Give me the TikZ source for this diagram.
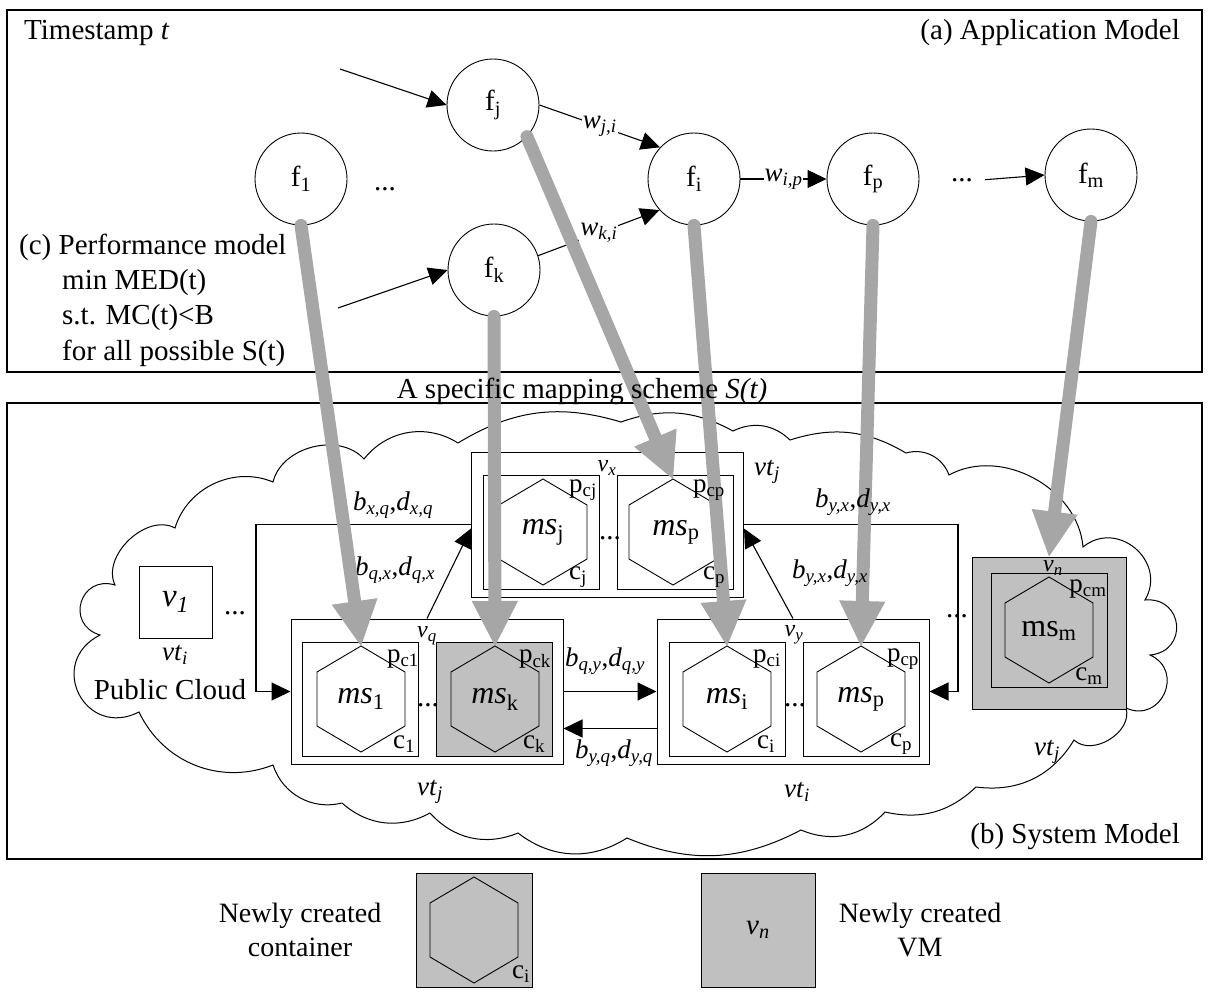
\documentclass[tikz,border=0pt]{standalone}
\usepackage{fontspec}
\setmainfont{Liberation Serif}
\usetikzlibrary{arrows.meta}
\definecolor{gfill}{HTML}{C0C0C0}
\definecolor{garc}{HTML}{A6A6A6}
\newcommand\ib[2]{\textit{#1}\textsubscript{\textit{#2}}}
\begin{document}
\begin{tikzpicture}[x=1pt,y=-1pt,
 panel/.style={draw, line width=1.2pt, inner sep=0pt},
 txt/.style={font=\fontsize{29}{34}\selectfont, inner sep=0pt},
 lab/.style={font=\fontsize{27}{31}\selectfont, inner sep=0pt},
 vlab/.style={font=\fontsize{24}{28}\selectfont, inner sep=0pt},
 mslab/.style={font=\fontsize{32}{36}\selectfont, inner sep=0pt},
 fcirc/.style={circle, draw, line width=0.9pt, fill=white, minimum size=92pt, inner sep=0pt, font=\fontsize{29}{33}\selectfont},
 vm/.style={draw, line width=1pt, fill=white, inner sep=0pt, minimum width=272pt, minimum height=145pt},
 cont/.style={draw, line width=1pt, fill=white, inner sep=0pt, minimum width=116pt, minimum height=114pt},
 arr/.style={line width=1.1pt, -{Triangle[length=19pt,width=18pt]}},
 gar/.style={color=garc, line width=13pt, line cap=round, -{Triangle[length=45pt,width=46pt,line width=1pt]}},
 wlab/.style={font=\fontsize{27}{31}\selectfont, fill=white, inner sep=1pt},
 cloudline/.style={line width=1pt},
 hexa/.pic={\draw[line width=0.9pt] (0,-53) -- (44,-27) -- (44,27) -- (0,53) -- (-44,27) -- (-44,-27) -- cycle; \coordinate (-top) at (0,-53);},
]
\useasboundingbox (0,0) rectangle (1208,1002);

% panels
\node[panel, minimum width=1195pt, minimum height=362pt] (toppanel) at (604.5,191) {};
\node[panel, minimum width=1195pt, minimum height=456pt] (botpanel) at (604.5,631) {};

% top panel text
\node[txt, anchor=west] (ts) at (24,33) {Timestamp \textit{t}};
\node[txt, anchor=east] (am) at (1180,33) {(a) Application Model};
\node[txt, anchor=west] (pm) at (19,247) {(c) Performance model};
\node[txt, anchor=west] (pm1) at (62,283) {min MED(t)};
\node[txt, anchor=west] (pm2) at (62,318) {s.t. MC(t)<B};
\node[txt, anchor=west] (pm3) at (62,353) {for all possible S(t)};

% application graph
\node[fcirc] (f1) at (301,179) {f\textsubscript{1}};
\node[fcirc] (fj) at (493,105) {f\textsubscript{j}};
\node[fcirc] (fk) at (494,270) {f\textsubscript{k}};
\node[fcirc] (fi) at (694,179) {f\textsubscript{i}};
\node[fcirc] (fp) at (873,179) {f\textsubscript{p}};
\node[fcirc] (fm) at (1091,175) {f\textsubscript{m}};
\node[txt, anchor=base] (d1) at (385,190) {...};
\node[txt, anchor=base] (d2) at (962,181) {...};
\coordinate (injin) at (340,69);
\coordinate (inkin) at (338,308);
\draw[arr] (injin) -- (fj.west);
\draw[arr] (inkin) -- (fk.west);
\draw[arr] (fj.east) -- node[wlab] {\ib{w}{j,i}} (fi.137);
\draw[arr] (fk.18) -- node[wlab] {\ib{w}{k,i}} (fi.222);
\draw[arr] (fi.east) -- node[wlab] {\ib{w}{i,p}} (fp.west);
\draw[arr] ([xshift=12pt]d2.east) -- (fm.west);

% cloud
\draw[cloudline] (458,443) to[bend left=24] (621,422) to[bend left=24] (733,431)
 to[bend left=35] (790,440) to[bend left=24] (906,453) to[bend left=43] (949,475)
 to[bend left=57] (1083,547) to[bend left=80, looseness=1.4] (1145,600)
 to[bend left=90, looseness=1.8] (1150,655) to[bend left=90, looseness=1.7] (1126,708)
 to[bend left=75, looseness=1.05] (1074,740) to[bend left=33] (976,787)
 to[bend left=28] (885,812) to[bend left=35] (801,830) to[bend left=25] (627,838)
 to[bend left=35] (518,833) to[bend left=35] (430,813) to[bend left=35] (342,803)
 to[bend left=43] (273,765) to[bend left=43] (139,712)
 to[bend left=90, looseness=1.8] (100,635) to[bend left=90, looseness=1.8] (115,585)
 to[bend left=72] (175,528) to[bend left=48] (273,482) to[bend left=62] (364,459)
 to[bend left=42] (458,443);

% VMs and containers
\node[vm] (vx) at (607.5,524.5) {};
\node[vm] (vq) at (427,691.5) {};
\node[vm] (vy) at (793,691.5) {};
\node[cont] (cj) at (541.5,532) {};
\node[cont] (cpx) at (675.5,532) {};
\node[cont] (c1) at (360.5,699) {};
\node[cont, fill=gfill] (ck) at (494.5,699) {};
\node[cont] (ci) at (727.5,699) {};
\node[cont] (cpy) at (861,699) {};
\pic (hj) at (543,532) {hexa};
\pic (hpx) at (673,532) {hexa};
\pic (h1) at (361,699) {hexa};
\pic (hk) at (495,699) {hexa};
\pic (hi) at (727,699) {hexa};
\pic (hpy) at (861,699) {hexa};
\node[draw, line width=1pt, fill=gfill, inner sep=0pt, minimum width=154pt, minimum height=152pt] (vn) at (1049,633) {};
\node[cont, fill=gfill] (cm) at (1049,630) {};
\pic (hm) at (1049,630) {hexa};
\node[draw, line width=1pt, inner sep=0pt, minimum width=73pt, minimum height=72pt, font=\fontsize{33}{36}\selectfont] (v1) at (175.5,602) {\ib{v}{1}};

% connectors between VMs
\draw[arr] (vq.north) -- ([yshift=-4pt]vx.west);
\draw[arr] (vx.west) -- ++(-215,0) |- (vq.west);
\draw[arr] (vq.east) -- (vy.west);
\draw[arr] ([yshift=-37pt]vy.west) -- ([yshift=-37pt]vq.east);
\draw[arr] (vy.north) -- ([yshift=-4pt]vx.east);
\draw[arr] (vx.east) -- ++(214,0) |- (vy.east);

\node[lab] (lqx) at (395,570) {\ib{b}{q,x},\ib{d}{q,x}};

% grey mapping arrows
\draw[gar] (f1.south) -- (h1-top);
\draw[gar] (fk.south) -- (hk-top);
\draw[gar] (fj.317) -- (hpx-top);
\draw[gar] (fi.south) -- (hi-top);
\draw[gar] (fp.south) -- (hpy-top);
\draw[gar] (fm.south) -- (vn.north);

% texts above arrows
\node[txt] (msch) at (582,391) {A specific mapping scheme \textit{S(t)}};
\node[txt, anchor=east] (sm) at (1180,837) {(b) System Model};
\node[txt] (pc) at (170,690) {Public Cloud};

\node[lab] (lxq) at (393,505) {\ib{b}{x,q},\ib{d}{x,q}};
\node[lab] (lqy) at (605,661) {\ib{b}{q,y},\ib{d}{q,y}};
\node[lab] (lyq) at (614,753) {\ib{b}{y,q},\ib{d}{y,q}};
\node[lab] (lyx1) at (853,502) {\ib{b}{y,x},\ib{d}{y,x}};
\node[lab] (lyx2) at (830,573) {\ib{b}{y,x},\ib{d}{y,x}};

\node[vlab] (lvx) at (607,468) {\ib{v}{x}};
\node[vlab] (lvq) at (427,636) {\ib{v}{q}};
\node[vlab] (lvy) at (794,635) {\ib{v}{y}};
\node[vlab] (lvn) at (1053,568) {\ib{v}{n}};

\node[lab] (t1) at (767,472) {\ib{vt}{j}};
\node[lab] (t2) at (430,792) {\ib{vt}{j}};
\node[lab] (t3) at (797,792) {\ib{vt}{i}};
\node[lab] (t4) at (1047,752) {\ib{vt}{j}};
\node[lab] (t5) at (175,655) {\ib{vt}{i}};

\node[txt, anchor=base] (d3) at (235,614) {...};
\node[txt, anchor=base] (d4) at (428,706) {...};
\node[txt, anchor=base] (d5) at (795,706) {...};
\node[txt, anchor=base] (d6) at (610,539) {...};
\node[txt, anchor=base] (d7) at (957,617) {...};

\node[lab] at (403,659) {p\textsubscript{c1}};
\node[lab] at (404,744) {c\textsubscript{1}};
\node[lab] at (535,659) {p\textsubscript{ck}};
\node[lab] at (534,744) {c\textsubscript{k}};
\node[lab] at (767,659) {p\textsubscript{ci}};
\node[lab] at (766,744) {c\textsubscript{i}};
\node[lab] at (903,659) {p\textsubscript{cp}};
\node[lab] at (901,744) {c\textsubscript{p}};
\node[lab] at (583,490) {p\textsubscript{cj}};
\node[lab] at (578,577) {c\textsubscript{j}};
\node[lab] at (709,490) {p\textsubscript{cp}};
\node[lab] at (714,577) {c\textsubscript{p}};
\node[lab] at (1088,589) {p\textsubscript{cm}};
\node[lab] at (1089,676) {c\textsubscript{m}};

\node[mslab] at (543,532) {\textit{ms}\textsubscript{j}};
\node[mslab] at (676,532) {\textit{ms}\textsubscript{p}};
\node[mslab] at (361,699) {\textit{ms}\textsubscript{1}};
\node[mslab] at (495,699) {\textit{ms}\textsubscript{k}};
\node[mslab] at (727,699) {\textit{ms}\textsubscript{i}};
\node[mslab] at (861,699) {\textit{ms}\textsubscript{p}};
\node[mslab] at (1049,631) {ms\textsubscript{m}};

% legend
\node[font=\fontsize{28}{34}\selectfont, align=center, inner sep=0pt] (lg1t) at (300,930) {Newly created\\container};
\node[cont, fill=gfill] (lg1) at (474,930) {};
\pic (hl) at (474,930) {hexa};
\node[lab] at (521,974) {c\textsubscript{i}};
\node[draw, line width=1pt, fill=gfill, inner sep=0pt, minimum width=114pt, minimum height=114pt, font=\fontsize{29}{34}\selectfont] (lg2) at (758,930) {\ib{v}{n}};
\node[font=\fontsize{28}{34}\selectfont, align=center, inner sep=0pt] (lg2t) at (920,930) {Newly created\\VM};
\end{tikzpicture}
\end{document}
